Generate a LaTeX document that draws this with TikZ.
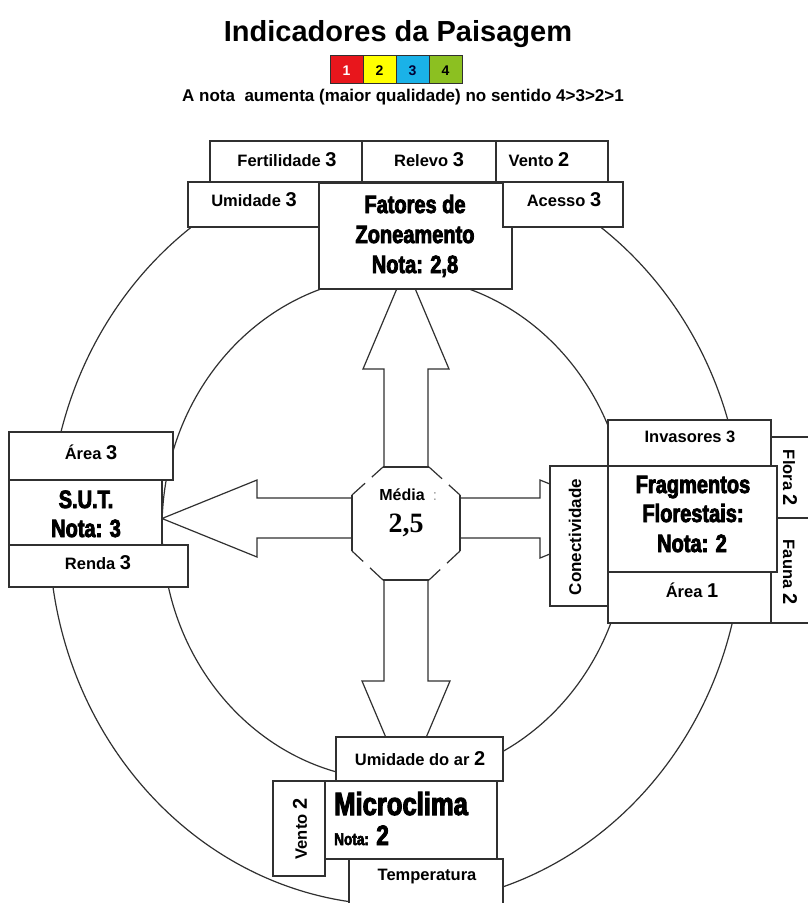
\documentclass[tikz,border=0pt]{standalone}
\usepackage{fontspec}
\setmainfont{Liberation Sans}
\newfontfamily\headfont{Liberation Sans}[FakeBold=3.2,FakeStretch=0.8]
\newfontfamily\serifnum{Liberation Serif}
\usetikzlibrary{fit,calc}

\definecolor{edge}{HTML}{303030}
\definecolor{lgred}{HTML}{E8161C}
\definecolor{lgyellow}{HTML}{FFFF00}
\definecolor{lgblue}{HTML}{1AB2E8}
\definecolor{lggreen}{HTML}{8CC021}

\tikzset{
  cellbox/.style={draw=edge, fill=white, line width=1.2pt, inner sep=0pt},
  keycell/.style={draw=edge, line width=1pt, inner sep=0pt},
  keydigit/.style={anchor=base, inner sep=0pt, font=\bfseries\fontsize{14}{15}\selectfont},
  lbl/.style={inner sep=0pt, anchor=base, font=\bfseries\fontsize{16.5}{18}\selectfont},
  head/.style={inner sep=0pt, anchor=base, font=\headfont\bfseries\fontsize{25}{27}\selectfont},
  ring/.style={draw=edge, line width=1.2pt},
  blockarrow/.style={draw=edge, fill=white, line width=1.2pt, line join=miter},
  octedge/.style={draw=edge, line width=1.2pt},
}
\newcommand\bignum[1]{{\bfseries\fontsize{20}{20}\selectfont #1}}

\begin{document}
\begin{tikzpicture}[x=1pt,y=-1pt]
\useasboundingbox (0,0) rectangle (808,903);
\clip (0,0) rectangle (808,903);

% heading and colour key
\node[anchor=base, inner sep=0pt, font=\bfseries\fontsize{29}{30}\selectfont] (title) at (398,41) {Indicadores da Paisagem};
\node[keycell, fill=lgred, fit={(330,55) (363,83)}] (k1) {};
\node[keycell, fill=lgyellow, fit={(363,55) (396,83)}] (k2) {};
\node[keycell, fill=lgblue, fit={(396,55) (429,83)}] (k3) {};
\node[keycell, fill=lggreen, fit={(429,55) (462,83)}] (k4) {};
\node[keydigit, text=white] (k1t) at (346.5,75) {1};
\node[keydigit] (k2t) at (379.5,75) {2};
\node[keydigit, text=black!80!blue] (k3t) at (412.5,75) {3};
\node[keydigit] (k4t) at (445.5,75) {4};
\node[anchor=base, inner sep=0pt, font=\bfseries\fontsize{17}{18}\selectfont] (subtitle) at (403,101) {A nota\ \ aumenta (maior qualidade) no sentido 4>3>2>1};

% the two rings
\draw[ring] (396,530) ellipse [x radius=347pt, y radius=375pt];
\draw[ring] (395,528) ellipse [x radius=233pt, y radius=252pt];

% block arrows leaving the centre
\draw[blockarrow] (384,467) -- (384,369) -- (363,369) -- (406,267) -- (449,369) -- (428,369) -- (428,467);
\draw[blockarrow] (384,580) -- (384,681) -- (362,681) -- (406,785) -- (450,681) -- (428,681) -- (428,580);
\draw[blockarrow] (352,498) -- (257,498) -- (257,480) -- (162,518.5) -- (257,557) -- (257,538) -- (352,538);
\draw[blockarrow] (460,498) -- (540,498) -- (540,480) -- (637,519) -- (540,558) -- (540,538) -- (460,538);

% central octagon
\coordinate (o1) at (383,467);
\coordinate (o2) at (429,467);
\coordinate (o3) at (460,495);
\coordinate (o4) at (460,551);
\coordinate (o5) at (429,580);
\coordinate (o6) at (383,580);
\coordinate (o7) at (352,551);
\coordinate (o8) at (352,495);
\fill[white] (o1) -- (o2) -- (o3) -- (o4) -- (o5) -- (o6) -- (o7) -- (o8) -- cycle;
\draw[octedge] (o1) -- (o2) (o3) -- (o4) (o5) -- (o6) (o7) -- (o8);
\draw[octedge] (o2) -- ($(o2)!0.42!(o3)$) ($(o2)!0.64!(o3)$) -- (o3);
\draw[octedge] (o4) -- ($(o4)!0.42!(o5)$) ($(o4)!0.64!(o5)$) -- (o5);
\draw[octedge] (o6) -- ($(o6)!0.42!(o7)$) ($(o6)!0.64!(o7)$) -- (o7);
\draw[octedge] (o8) -- ($(o8)!0.42!(o1)$) ($(o8)!0.64!(o1)$) -- (o1);
\node[anchor=base, inner sep=0pt, font=\bfseries\fontsize{16}{17}\selectfont] (media) at (402,500) {Média};
\node[anchor=base, inner sep=0pt, text=black!40, font=\fontsize{15}{16}\selectfont] (mcolon) at (435,500) {:};
\node[anchor=base, inner sep=0pt, font=\serifnum\bfseries\fontsize{28}{30}\selectfont] (mval) at (406,532) {2,5};

% zoning factors (top)
\node[cellbox, fit={(210,141) (362,182)}] (fert) {};
\node[cellbox, fit={(362,141) (496,182)}] (relevo) {};
\node[cellbox, fit={(496,141) (608,182)}] (ventotop) {};
\node[cellbox, fit={(188,182) (319,227)}] (umid) {};
\node[cellbox, fit={(319,183) (512,289)}] (fatores) {};
\node[cellbox, fit={(503,182) (623,227)}] (acesso) {};
\node[lbl] (tfert) at (287,166) {Fertilidade \bignum{3}};
\node[lbl] (trelevo) at (429,166) {Relevo \bignum{3}};
\node[lbl] (tventotop) at (539,166) {Vento \bignum{2}};
\node[lbl] (tumid) at (254,206) {Umidade \bignum{3}};
\node[lbl] (tacesso) at (564,206) {Acesso \bignum{3}};
\node[head] (fz1) at (415,213) {Fatores de};
\node[head] (fz2) at (415,243) {Zoneamento};
\node[head] (fz3) at (415,273) {Nota: 2,8};

% S.U.T. (left)
\node[cellbox, fit={(9,432) (173,480)}] (arealeft) {};
\node[cellbox, fit={(9,480) (162,545)}] (sut) {};
\node[cellbox, fit={(9,545) (188,587)}] (renda) {};
\node[lbl] (tarealeft) at (91,459) {Área \bignum{3}};
\node[head] (sut1) at (86,508) {S.U.T.};
\node[head] (sut2) at (86,537) {Nota: 3};
\node[lbl] (trenda) at (98,569) {Renda \bignum{3}};

% forest fragments (right)
\node[cellbox, fit={(608,420) (771,466)}] (invas) {};
\node[cellbox, fit={(771,437) (815,518)}] (flora) {};
\node[cellbox, fit={(771,518) (815,623)}] (fauna) {};
\node[cellbox, fit={(608,572) (771,623)}] (arearight) {};
\node[cellbox, fit={(550,466) (608,606)}] (conect) {};
\node[cellbox, fit={(608,466) (777,572)}] (frag) {};
\node[lbl] (tinvas) at (690,442) {Invasores 3};
\node[head] (fr1) at (693,493) {Fragmentos};
\node[head] (fr2) at (693,522) {Florestais:};
\node[head] (fr3) at (692,552) {Nota: 2};
\node[lbl] (tarearight) at (692,597) {Área \bignum{1}};
\node[lbl, anchor=center, rotate=90, font=\bfseries\fontsize{17}{18}\selectfont] (tconect) at (575,537) {Conectividade};
\node[lbl, anchor=center, rotate=-90] (tflora) at (790,478) {Flora \bignum{2}};
\node[lbl, anchor=center, rotate=-90] (tfauna) at (790,572) {Fauna \bignum{2}};

% microclimate (bottom)
\node[cellbox, fit={(336,737) (503,781)}] (umidar) {};
\node[cellbox, fit={(273,781) (325,876)}] (ventobot) {};
\node[cellbox, fit={(325,781) (497,859)}] (micro) {};
\node[cellbox, fit={(349,859) (503,915)}] (temp) {};
\node[lbl] (tumidar) at (420,765) {Umidade do ar \bignum{2}};
\node[lbl, anchor=center, rotate=90] (tventobot) at (300,829) {Vento \bignum{2}};
\node[head, anchor=base west, font=\headfont\bfseries\fontsize{32}{34}\selectfont] (mc1) at (334,815) {Microclima};
\node[head, anchor=base west] (mc2) at (334,845) {{\fontsize{17}{18}\selectfont Nota:} {\fontsize{28}{29}\selectfont 2}};
\node[lbl] (ttemp) at (427,880) {Temperatura};
\end{tikzpicture}
\end{document}
